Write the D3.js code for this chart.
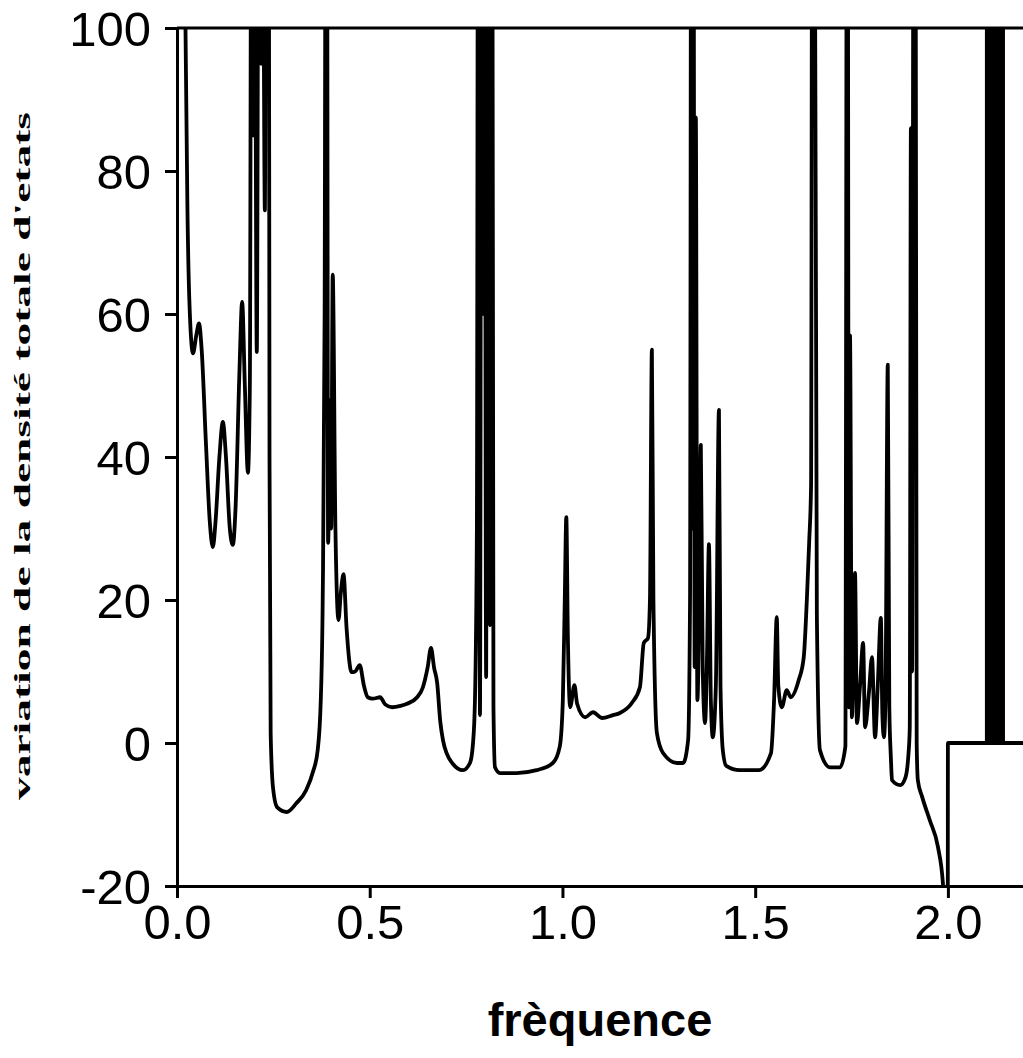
<!DOCTYPE html>
<html lang="fr">
<head>
  <meta charset="UTF-8">
  <script src="https://d3js.org/d3.v7.min.js"></script>
  <style>
    body { margin: 0; background: #fff; }
    .tick text { font-family: "Liberation Sans", Arial, sans-serif; font-size: 49px; fill: #000; }
  </style>
</head>
<body>
<div id="chart"></div>
<script>
  // frequency / variation of DOS (values above 100 are off-chart spikes)
  var freq = [0.000, 0.018, 0.022, 0.027, 0.032, 0.0415, 0.050, 0.057, 0.064, 0.075, 0.085, 0.093, 0.100, 0.110, 0.119, 0.127, 0.137, 0.145, 0.152, 0.162, 0.169, 0.176, 0.184, 0.189,
    0.193, 0.197, 0.201, 0.207, 0.212, 0.218, 0.222, 0.228, 0.231, 0.233, 0.236, 0.238, 0.240, 0.243, 0.249, 0.260, 0.285, 0.310, 0.335, 0.353, 0.365, 0.373, 0.378, 0.383, 0.386, 0.389,
    0.392, 0.398, 0.400, 0.404, 0.411, 0.419, 0.425, 0.432, 0.440, 0.453, 0.462, 0.474, 0.485, 0.495, 0.508, 0.527, 0.540, 0.558, 0.580, 0.597, 0.623, 0.638, 0.650, 0.659, 0.667, 0.675,
    0.683, 0.690, 0.700, 0.714, 0.742, 0.760, 0.768, 0.773, 0.778, 0.781, 0.783, 0.786, 0.790, 0.795, 0.798, 0.802, 0.805, 0.808, 0.810, 0.812, 0.815, 0.818, 0.821, 0.825, 0.838, 0.881,
    0.933, 0.975, 0.993, 1.001, 1.006, 1.010, 1.014, 1.020, 1.031, 1.038, 1.059, 1.079, 1.103, 1.131, 1.149, 1.180, 1.201, 1.211, 1.222, 1.227, 1.232, 1.236, 1.245, 1.261, 1.297, 1.313,
    1.326, 1.331, 1.334, 1.337, 1.340, 1.343, 1.346, 1.350, 1.355, 1.359, 1.364, 1.370, 1.375, 1.380, 1.385, 1.390, 1.398, 1.406, 1.410, 1.416, 1.425, 1.460, 1.510, 1.541, 1.549, 1.556,
    1.560, 1.569, 1.582, 1.592, 1.613, 1.626, 1.634, 1.640, 1.645, 1.648, 1.654, 1.660, 1.668, 1.694, 1.720, 1.734, 1.738, 1.740, 1.743, 1.746, 1.751, 1.755, 1.759, 1.764, 1.772, 1.780,
    1.785, 1.795, 1.803, 1.811, 1.818, 1.826, 1.830, 1.834, 1.838, 1.844, 1.848, 1.852, 1.855, 1.876, 1.890, 1.897, 1.901, 1.904, 1.907, 1.911, 1.916, 1.919, 1.922, 1.933, 1.953, 1.974,
    1.987, 1.997, 1.9995, 2.000, 2.200];
  var dos = [130, 130, 100, 75, 62, 54.5, 57, 58.7, 55, 42, 31, 27.4, 31, 40, 44.9, 40, 30, 27.7, 33, 52, 61.7, 50, 37.8, 50,
    130, 85, 130, 54.7, 130, 95, 130, 74.5, 130, 92, 130, 130, 40, 1.4, -6.2, -9, -9.65, -8.4, -6.6, -4, -1, 6, 20, 60, 130, 130,
    28, 48, 30, 65.5, 30, 17.2, 21, 23.6, 16, 9.9, 10, 10.9, 8, 6.4, 6.2, 6.4, 5.4, 5.0, 5.2, 5.5, 6.4, 7.8, 10.5, 13.3, 10.5, 8.4,
    3, 0.4, -1.5, -2.8, -3.8, -2.8, 0, 6, 30, 130, 130, 3.9, 130, 60, 130, 9.2, 130, 40, 130, 16.5, 130, 130, 5, -3.4, -4.2, -4.2,
    -3.8, -2.8, -0.5, 6, 20, 31.6, 15, 5.0, 8.1, 5.5, 3.6, 4.3, 3.5, 3.9, 4.2, 5.6, 7.8, 14, 14.7, 20, 55, 20, 1.4, -1.4, -2.8, -2.8,
    0.4, 20, 130, 30, 130, 10.6, 87.5, 6, 20, 41.7, 10, 2.8, 12, 27.8, 6, 0.8, 8, 46.6, 8, -1, -3.2, -3.8, -3.8, -1.4, 6, 17.6,
    8, 5, 7.4, 6.4, 8.8, 12, 20, 28, 36, 130, 130, 18, -1, -3.4, -3.4, -0.5, 130, 130, 5, 57, 3.6, 12, 23.8, 2.8, 8, 14,
    2.2, 7, 12, 0.8, 8, 17.5, 4, 0.8, 6, 52.9, 5, -2, -5.2, -5.9, -4.8, -2, 2, 86, 10, 130, 130, 0, -5.2, -7.5, -10.8, -14.5,
    -19.6, -30, -40, 0, 0];
  // dense oscillation band above 2.0 (drawn solid black)
  var bandFreq = [2.096, 2.148];
  var bandTop = 100;

  var xTicks = [0.0, 0.5, 1.0, 1.5, 2.0];
  var yTicks = [-20, 0, 20, 40, 60, 80, 100];

  var margin = { top: 28, left: 177 },
    width = 848, height = 858;

  var svg = d3.select("#chart").append("svg")
    .attr("width", 1023).attr("height", 1058);

  var g = svg.append("g")
    .attr("transform", "translate(" + margin.left + "," + margin.top + ")");

  var x = d3.scaleLinear().domain([0, 2.2]).range([0, width]);
  var y = d3.scaleLinear().domain([-20, 100]).range([height, 0]);

  g.append("clipPath").attr("id", "clip")
    .append("rect").attr("x", 0).attr("y", 0).attr("width", width).attr("height", height);

  var pts = freq.map(function (f, i) { return [f, dos[i]]; });

  var line = d3.line()
    .curve(d3.curveMonotoneX)
    .x(function (d) { return x(d[0]); })
    .y(function (d) { return y(d[1]); });

  var plot = g.append("g").attr("clip-path", "url(#clip)");

  plot.append("rect")
    .attr("x", x(bandFreq[0]))
    .attr("y", y(bandTop))
    .attr("width", x(bandFreq[1]) - x(bandFreq[0]))
    .attr("height", y(0) - y(bandTop))
    .attr("fill", "#000");

  plot.append("path")
    .datum(pts)
    .attr("fill", "none")
    .attr("stroke", "#000")
    .attr("stroke-width", 3.8)
    .attr("stroke-linejoin", "round")
    .attr("d", line);

  // top frame line
  g.append("line")
    .attr("x1", 0).attr("x2", width)
    .attr("y1", 0).attr("y2", 0)
    .attr("stroke", "#000").attr("stroke-width", 3);

  var xAxis = g.append("g")
    .attr("transform", "translate(0," + height + ")")
    .call(d3.axisBottom(x).tickValues(xTicks).tickSize(12).tickSizeOuter(0).tickFormat(d3.format(".1f")));
  xAxis.selectAll("text").attr("y", 18).attr("dy", "0.71em");

  var yAxis = g.append("g")
    .call(d3.axisLeft(y).tickValues(yTicks).tickSize(12).tickSizeOuter(0)
      .tickFormat(function (d) { return String(d); }));
  yAxis.selectAll("text").attr("x", -26).attr("dy", "0.36em");

  svg.selectAll(".domain, .tick line").attr("stroke", "#000").attr("stroke-width", 3);

  svg.append("text")
    .attr("x", 600).attr("y", 1036)
    .attr("text-anchor", "middle")
    .style("font-family", "'Liberation Sans', Arial, sans-serif")
    .style("font-size", "47px")
    .style("font-weight", "bold")
    .text("frèquence");

  svg.append("text")
    .attr("transform", "translate(30,456) rotate(-90)")
    .attr("text-anchor", "middle")
    .attr("textLength", 688)
    .attr("lengthAdjust", "spacingAndGlyphs")
    .style("font-family", "'Liberation Serif', 'Times New Roman', serif")
    .style("font-size", "24px")
    .style("font-weight", "bold")
    .text("variation de la densité totale d'etats");
</script>
</body>
</html>
